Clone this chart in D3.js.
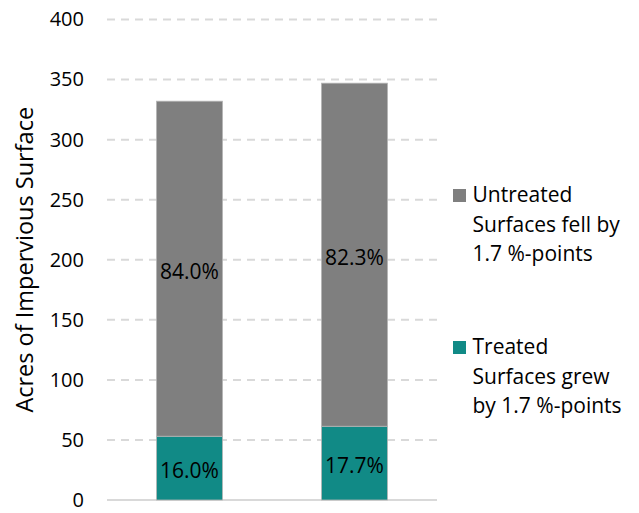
<!DOCTYPE html>
<html>
<head>
<meta charset="utf-8">
<script src="https://cdn.jsdelivr.net/npm/d3@7"></script>
<style>
  body { margin: 0; background: #fff; }
  svg { font-family: "Open Sans", sans-serif; }
</style>
</head>
<body>
<svg id="chart" width="639" height="513"></svg>
<script>
"use strict";

// two periods, no axis labels in the original
const categories = ["Before", "After"];
const treated = [53.1, 61.4];
const untreated = [278.9, 285.6];
const yTicks = [0, 50, 100, 150, 200, 250, 300, 350, 400];

const seriesNames = ["treated", "untreated"];
const colors = { treated: "#118a86", untreated: "#7f7f7f" };
const legendItems = [
  { key: "untreated", lines: ["Untreated", "Surfaces fell by", "1.7 %-points"] },
  { key: "treated", lines: ["Treated", "Surfaces grew", "by 1.7 %-points"] },
];

const svg = d3.select("#chart");

const x = d3.scaleBand().domain(categories).range([107, 437]).paddingInner(0.6).paddingOuter(0.3);
const y = d3.scaleLinear().domain([0, 400]).range([500, 19.5]);

const rows = categories.map((c, i) => ({ cat: c, treated: treated[i], untreated: untreated[i] }));
const stacked = d3.stack().keys(seriesNames)(rows);

// gridlines
svg.append("g")
  .selectAll("line")
  .data(yTicks.filter((d) => d > 0))
  .enter()
  .append("line")
  .attr("x1", 107)
  .attr("x2", 437)
  .attr("y1", (d) => y(d))
  .attr("y2", (d) => y(d))
  .attr("stroke", "#d9d9d9")
  .attr("stroke-width", 2)
  .attr("stroke-dasharray", "8,6");

// baseline
svg.append("line")
  .attr("x1", 107)
  .attr("x2", 437)
  .attr("y1", y(0))
  .attr("y2", y(0))
  .attr("stroke", "#d9d9d9")
  .attr("stroke-width", 2);

// y axis tick labels
const yAxis = d3.axisLeft(y).tickValues(yTicks).tickSize(0).tickPadding(0);
const yg = svg.append("g").attr("transform", "translate(84,0)").call(yAxis);
yg.select(".domain").remove();
yg.selectAll("text")
  .attr("font-size", 20)
  .attr("font-family", "Open Sans, sans-serif")
  .attr("fill", "#000");

svg.append("text")
  .attr("transform", `translate(33,${(y(0) + y(400)) / 2}) rotate(-90)`)
  .attr("text-anchor", "middle")
  .attr("font-size", 23.5)
  .attr("fill", "#000")
  .text("Acres of Impervious Surface");

// bars
const layer = svg.append("g")
  .selectAll("g")
  .data(stacked)
  .enter()
  .append("g")
  .attr("fill", (d) => colors[d.key]);

layer.selectAll("rect")
  .data((d) => d)
  .enter()
  .append("rect")
  .attr("x", (d) => x(d.data.cat))
  .attr("width", x.bandwidth())
  .attr("y", (d) => y(d[1]))
  .attr("height", (d) => y(d[0]) - y(d[1]))
  .attr("stroke", "#b5b5b5")
  .attr("stroke-width", 0.8);

// percentage labels
layer.selectAll("text")
  .data((d) => d)
  .enter()
  .append("text")
  .attr("x", (d) => x(d.data.cat) + x.bandwidth() / 2)
  .attr("y", (d) => (y(d[0]) + y(d[1])) / 2 + 2)
  .attr("text-anchor", "middle")
  .attr("dominant-baseline", "central")
  .attr("font-size", 21)
  .attr("fill", "#000")
  .text((d) => {
    const total = d.data.treated + d.data.untreated;
    return ((d[1] - d[0]) / total * 100).toFixed(1) + "%";
  });

// legend
const legend = svg.append("g")
  .selectAll("g")
  .data(legendItems)
  .enter()
  .append("g")
  .attr("transform", (d, i) => `translate(453,${202 + i * 152})`);

legend.append("rect")
  .attr("x", 0)
  .attr("y", -13)
  .attr("width", 13)
  .attr("height", 13)
  .attr("fill", (d) => colors[d.key]);

legend.append("text")
  .attr("font-size", 21)
  .attr("fill", "#000")
  .selectAll("tspan")
  .data((d) => d.lines)
  .enter()
  .append("tspan")
  .attr("x", 19.5)
  .attr("y", (d, i) => i * 29.5)
  .text((d) => d);
</script>
</body>
</html>
